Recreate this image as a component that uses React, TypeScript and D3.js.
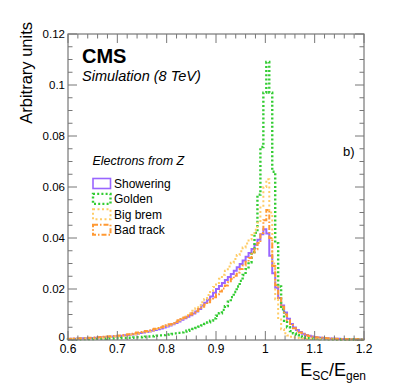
import React from "react";
import * as d3 from "d3";

// histogram binning (0.6 - 1.2, 100 bins)
const xMin = 0.6;
const xMax = 1.2;
const nBins = 100;

const showering = [
  0.0004, 0.0005, 0.0005, 0.0006, 0.0006, 0.0007, 0.0007, 0.0008, 0.0008, 0.0009,
  0.0010, 0.0011, 0.0011, 0.0012, 0.0013, 0.0014, 0.0015, 0.0016, 0.0017, 0.0019,
  0.0020, 0.0022, 0.0023, 0.0025, 0.0027, 0.0029, 0.0031, 0.0033, 0.0036, 0.0039,
  0.0042, 0.0045, 0.0049, 0.0053, 0.0057, 0.0062, 0.0067, 0.0073, 0.0079, 0.0085,
  0.0091, 0.0097, 0.0104, 0.0112, 0.0122, 0.0135, 0.0146, 0.0158, 0.0171, 0.0185,
  0.0200, 0.0212, 0.0224, 0.0235, 0.0247, 0.0259, 0.0272, 0.0285, 0.0298, 0.0312,
  0.0326, 0.0341, 0.0357, 0.0374, 0.0393, 0.0415, 0.0434, 0.0418, 0.0330, 0.0262,
  0.0205, 0.0165, 0.0135, 0.0108, 0.0083, 0.0063, 0.0049, 0.0039, 0.0031, 0.0025,
  0.0020, 0.0017, 0.0014, 0.0012, 0.0010, 0.0009, 0.0008, 0.0007, 0.0006, 0.0006,
  0.0005, 0.0005, 0.0004, 0.0004, 0.0004, 0.0003, 0.0003, 0.0003, 0.0003, 0.0002,
];

const golden = [
  0.0003, 0.0003, 0.0003, 0.0003, 0.0004, 0.0004, 0.0004, 0.0004, 0.0004, 0.0005,
  0.0005, 0.0005, 0.0005, 0.0006, 0.0006, 0.0006, 0.0007, 0.0007, 0.0008, 0.0008,
  0.0009, 0.0009, 0.0010, 0.0011, 0.0011, 0.0012, 0.0013, 0.0014, 0.0015, 0.0016,
  0.0017, 0.0018, 0.0019, 0.0021, 0.0022, 0.0024, 0.0026, 0.0028, 0.0030, 0.0033,
  0.0036, 0.0039, 0.0043, 0.0047, 0.0052, 0.0057, 0.0063, 0.0069, 0.0076, 0.0085,
  0.0095, 0.0105, 0.0118, 0.0133, 0.0150, 0.0168, 0.0188, 0.0210, 0.0232, 0.0255,
  0.0278, 0.0305, 0.0345, 0.0420, 0.0570, 0.0757, 0.0970, 0.1090, 0.0970, 0.0660,
  0.0380, 0.0210, 0.0120, 0.0075, 0.0050, 0.0035, 0.0026, 0.0019, 0.0014, 0.0011,
  0.0009, 0.0007, 0.0006, 0.0005, 0.0005, 0.0004, 0.0004, 0.0003, 0.0003, 0.0003,
  0.0003, 0.0002, 0.0002, 0.0002, 0.0002, 0.0002, 0.0002, 0.0002, 0.0001, 0.0001,
];

const bigBrem = [
  0.0003, 0.0004, 0.0004, 0.0005, 0.0005, 0.0006, 0.0006, 0.0007, 0.0007, 0.0008,
  0.0009, 0.0009, 0.0010, 0.0011, 0.0012, 0.0013, 0.0014, 0.0015, 0.0016, 0.0018,
  0.0019, 0.0021, 0.0023, 0.0025, 0.0027, 0.0029, 0.0031, 0.0034, 0.0037, 0.0040,
  0.0043, 0.0047, 0.0051, 0.0055, 0.0060, 0.0065, 0.0071, 0.0077, 0.0084, 0.0091,
  0.0098, 0.0106, 0.0115, 0.0125, 0.0136, 0.0148, 0.0161, 0.0176, 0.0192, 0.0208,
  0.0224, 0.0240, 0.0256, 0.0272, 0.0288, 0.0303, 0.0318, 0.0333, 0.0348, 0.0363,
  0.0378, 0.0394, 0.0412, 0.0432, 0.0460, 0.0520, 0.0600, 0.0630, 0.0500, 0.0300,
  0.0160, 0.0080, 0.0042, 0.0026, 0.0018, 0.0013, 0.0010, 0.0008, 0.0007, 0.0006,
  0.0005, 0.0005, 0.0004, 0.0004, 0.0004, 0.0003, 0.0003, 0.0003, 0.0003, 0.0003,
  0.0002, 0.0002, 0.0002, 0.0002, 0.0002, 0.0002, 0.0002, 0.0001, 0.0001, 0.0001,
];

const badTrack = [
  0.0005, 0.0005, 0.0006, 0.0006, 0.0007, 0.0007, 0.0008, 0.0009, 0.0009, 0.0010,
  0.0011, 0.0012, 0.0013, 0.0014, 0.0015, 0.0016, 0.0017, 0.0018, 0.0020, 0.0021,
  0.0023, 0.0025, 0.0027, 0.0029, 0.0031, 0.0033, 0.0035, 0.0038, 0.0041, 0.0044,
  0.0047, 0.0050, 0.0054, 0.0058, 0.0062, 0.0067, 0.0072, 0.0077, 0.0082, 0.0088,
  0.0094, 0.0100, 0.0107, 0.0114, 0.0122, 0.0130, 0.0139, 0.0148, 0.0158, 0.0168,
  0.0179, 0.0190, 0.0202, 0.0214, 0.0226, 0.0239, 0.0252, 0.0265, 0.0278, 0.0292,
  0.0307, 0.0322, 0.0338, 0.0356, 0.0380, 0.0420, 0.0470, 0.0510, 0.0400, 0.0290,
  0.0215, 0.0165, 0.0130, 0.0100, 0.0077, 0.0059, 0.0046, 0.0036, 0.0029, 0.0023,
  0.0019, 0.0016, 0.0013, 0.0011, 0.0010, 0.0009, 0.0008, 0.0007, 0.0006, 0.0005,
  0.0005, 0.0004, 0.0004, 0.0004, 0.0003, 0.0003, 0.0003, 0.0003, 0.0002, 0.0002,
];

const seriesNames = ["Showering", "Golden", "Big brem", "Bad track"];
const seriesData = [showering, golden, bigBrem, badTrack];
const seriesColors = ["#9966ff", "#33cc33", "#ffcc66", "#ff9933"];
const seriesDash = ["none", "2,2.2", "2,2.5", "5,2,1.5,2"];
const seriesWidth = [2, 2.4, 2, 2];

const yTicks = [0, 0.02, 0.04, 0.06, 0.08, 0.1, 0.12];
const yTickLabels = ["0", "0.02", "0.04", "0.06", "0.08", "0.1", "0.12"];
const xTicks = [0.6, 0.7, 0.8, 0.9, 1.0, 1.1, 1.2];
const xTickLabels = ["0.6", "0.7", "0.8", "0.9", "1", "1.1", "1.2"];

const W = 407, H = 391;
const margin = { top: 34, right: 43, bottom: 51, left: 68 };
const font = "'Liberation Sans', Arial, Helvetica, sans-serif";

const App = () => {
  const x = d3.scaleLinear().domain([xMin, xMax]).range([margin.left, W - margin.right]);
  const y = d3.scaleLinear().domain([0, 0.12]).range([H - margin.bottom, margin.top]);
  const edges = d3.range(nBins + 1).map(i => xMin + (i * (xMax - xMin)) / nBins);

  const line = d3.line<[number, number]>()
    .x(d => x(d[0]))
    .y(d => y(d[1]))
    .curve(d3.curveStepAfter);

  const histPath = (vals: number[]) => {
    const pts: [number, number][] = [[edges[0], 0]];
    vals.forEach((v, i) => pts.push([edges[i], v]));
    pts.push([edges[nBins], vals[nBins - 1]]);
    pts.push([edges[nBins], 0]);
    return line(pts) || "";
  };

  const x0 = margin.left, x1 = W - margin.right;
  const y0 = H - margin.bottom, y1 = margin.top;
  const xMinor = d3.range(0, 31).map(i => xMin + i * 0.02);
  const yMinor = d3.range(0, 25).map(i => i * 0.005);
  const frame = "#777";

  const legX = 93, legY = 183.5, legStep = 15.4;

  return (
    <svg width={W} height={H} style={{ position: "absolute", left: 0, top: 0, background: "#fff" }} fontFamily={font}>
      {/* histograms */}
      {seriesData.map((vals, i) => (
        <path key={seriesNames[i]} d={histPath(vals)} fill="none" stroke={seriesColors[i]}
          strokeWidth={seriesWidth[i]} strokeDasharray={seriesDash[i]} />
      ))}

      {/* frame */}
      <rect x={x0} y={y1} width={x1 - x0} height={y0 - y1} fill="none" stroke={frame} strokeWidth={1.2} />
      {xMinor.map((t, i) => {
        const len = i % 5 === 0 ? 9 : 4.5;
        return (
          <g key={"xt" + i} stroke={frame} strokeWidth={1}>
            <line x1={x(t)} x2={x(t)} y1={y0} y2={y0 - len} />
            <line x1={x(t)} x2={x(t)} y1={y1} y2={y1 + len} />
          </g>
        );
      })}
      {yMinor.map((t, i) => {
        const len = i % 4 === 0 ? 9 : 4.5;
        return (
          <g key={"yt" + i} stroke={frame} strokeWidth={1}>
            <line x1={x0} x2={x0 + len} y1={y(t)} y2={y(t)} />
            <line x1={x1} x2={x1 - len} y1={y(t)} y2={y(t)} />
          </g>
        );
      })}

      {/* tick labels */}
      {yTicks.map((t, i) => (
        <text key={"yl" + i} x={65} y={i === 0 ? y(t) - 3 : y(t)} dy="0.35em" textAnchor="end" fontSize={11.5}>{yTickLabels[i]}</text>
      ))}
      {xTicks.map((t, i) => (
        <text key={"xl" + i} x={x(t)} y={353} textAnchor="middle" fontSize={12}>{xTickLabels[i]}</text>
      ))}

      {/* axis titles */}
      <text transform="translate(31.5,22) rotate(-90)" textAnchor="end" fontSize={16.5}>Arbitrary units</text>
      <text x={366} y={376} textAnchor="end" fontSize={18}>
        E<tspan fontSize={12} dy={4}>SC</tspan><tspan dy={-4}>/E</tspan><tspan fontSize={12} dy={4}>gen</tspan>
      </text>

      {/* labels */}
      <text x={82} y={62.5} fontSize={20} fontWeight="bold">CMS</text>
      <text x={82} y={81} fontSize={14.5} fontStyle="italic">Simulation (8 TeV)</text>
      <text x={343} y={156} fontSize={13}>b)</text>

      {/* legend */}
      <text x={92.5} y={165} fontSize={12.5} fontStyle="italic">Electrons from Z</text>
      {seriesNames.map((name, i) => (
        <g key={"leg" + i}>
          <rect x={legX} y={legY + i * legStep - 5} width={17.5} height={10} fill="none"
            stroke={seriesColors[i]} strokeWidth={i === 0 ? 1.6 : seriesWidth[i]} strokeDasharray={seriesDash[i]} />
          <text x={114} y={legY + i * legStep} dy="0.35em" fontSize={12}>{name}</text>
        </g>
      ))}
    </svg>
  );
};

export default App;
